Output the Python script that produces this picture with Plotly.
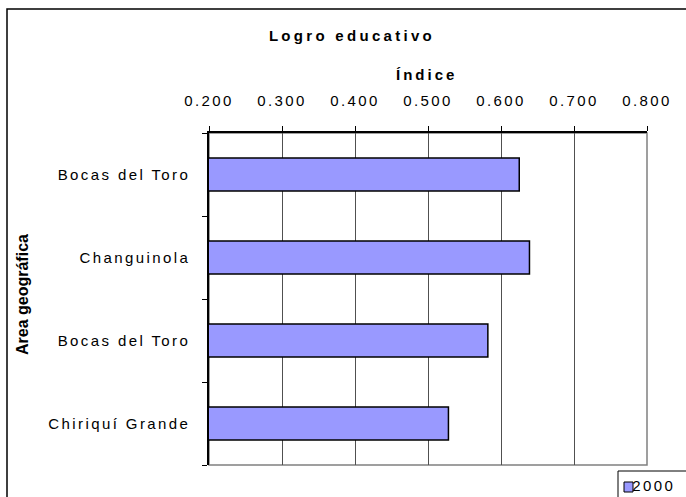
import plotly.graph_objects as go

# ---- data ----
categories = ["Bocas del Toro", "Changuinola", "Bocas del Toro", "Chiriquí Grande"]
values_2000 = [0.625, 0.639, 0.582, 0.528]
series_name = "2000"
x_ticks = [0.2, 0.3, 0.4, 0.5, 0.6, 0.7, 0.8]
x_tick_labels = ["0.200", "0.300", "0.400", "0.500", "0.600", "0.700", "0.800"]
chart_title = "Logro educativo"
x_title = "Índice"
y_title = "Area geográfica"

BAR = "#9999FF"
FONT = "Liberation Sans, Arial, sans-serif"

W, H = 686, 497
L, R, T, B = 209, 39, 133, 32
PW, PH = W - L - R, H - T - B


def px(x):
    return (x - L) / PW


def py(y):
    return (H - B - y) / PH


positions = list(range(len(categories)))

fig = go.Figure()
fig.add_trace(go.Bar(
    x=values_2000, y=positions, orientation="h", name=series_name,
    marker=dict(color=BAR, line=dict(color="#000000", width=1.5)),
    width=0.4, showlegend=False,
))

fig.update_layout(
    width=W, height=H,
    margin=dict(l=L, r=R, t=T, b=B, pad=0),
    paper_bgcolor="white", plot_bgcolor="white",
    font=dict(family=FONT, size=15, color="black"),
    title=dict(text=chart_title, x=352 / W, xref="container", xanchor="center",
               y=1 - 36 / H, yref="container", yanchor="middle",
               font=dict(family=FONT, size=15, color="black", weight="bold")),
    xaxis=dict(
        side="top", range=[0.2, 0.8], tickvals=x_ticks, ticktext=x_tick_labels,
        showgrid=True, gridcolor="#505050", gridwidth=1,
        showline=True, linecolor="black", linewidth=1.5,
        ticks="outside", ticklen=5, tickcolor="black",
        ticklabelstandoff=14, zeroline=False,
        tickfont=dict(size=15, family=FONT, color="black"),
    ),
    yaxis=dict(
        range=[len(categories) - 0.5, -0.5], tickvals=positions, ticktext=categories,
        showgrid=False, showline=True, linecolor="black", linewidth=1.5,
        ticks="", ticklabelstandoff=14, zeroline=False,
        tickfont=dict(size=15, family=FONT, color="black"),
        minor=dict(tickvals=[-0.5, 0.5, 1.5, 2.5, 3.5], ticks="outside",
                   ticklen=5, tickcolor="black", showgrid=False),
    ),
    showlegend=False,
)

shapes = [
    # plot area right/bottom border
    dict(type="rect", xref="paper", yref="paper", x0=0, x1=1, y0=0, y1=1,
         line=dict(color="#808080", width=1.5), fillcolor="rgba(0,0,0,0)", layer="below"),
    # outer chart border
    dict(type="rect", xref="paper", yref="paper", x0=px(7), x1=px(692), y0=py(502), y1=py(9),
         line=dict(color="black", width=1.5), fillcolor="rgba(0,0,0,0)"),
    # legend box
    dict(type="rect", xref="paper", yref="paper", x0=px(618), x1=px(692), y0=py(502), y1=py(471),
         line=dict(color="black", width=1), fillcolor="white"),
    # legend swatch
    dict(type="rect", xref="paper", yref="paper", x0=px(624), x1=px(633), y0=py(492), y1=py(482),
         line=dict(color="black", width=1), fillcolor=BAR),
]

annotations = [
    dict(text=x_title, xref="paper", yref="paper", x=px(426), y=py(74),
         xanchor="center", yanchor="middle", showarrow=False,
         font=dict(family=FONT, size=15, color="black", weight="bold")),
    dict(text=y_title, xref="paper", yref="paper", x=px(22), y=py(295),
         xanchor="center", yanchor="middle", showarrow=False, textangle=-90,
         font=dict(family=FONT, size=16, color="black", weight="bold")),
    dict(text=series_name, xref="paper", yref="paper", x=px(635), y=py(486),
         xanchor="left", yanchor="middle", showarrow=False,
         font=dict(family=FONT, size=15, color="black")),
]
fig.update_layout(shapes=shapes, annotations=annotations)

css = (
    "html, body {margin:0; padding:0; overflow:hidden;}"
    ".xtick text, .ytick text {letter-spacing:2.4px;}"
    ".gtitle {letter-spacing:3.3px;}"
    ".annotation[data-index='0'] text {letter-spacing:3px;}"
    ".annotation[data-index='2'] text {letter-spacing:2.4px;}"
)
post = ("var s=document.createElement('style');s.textContent=" + repr(css) +
        ";document.head.appendChild(s);")

fig.write_html("out.html", post_script=post, config={"displayModeBar": False})
